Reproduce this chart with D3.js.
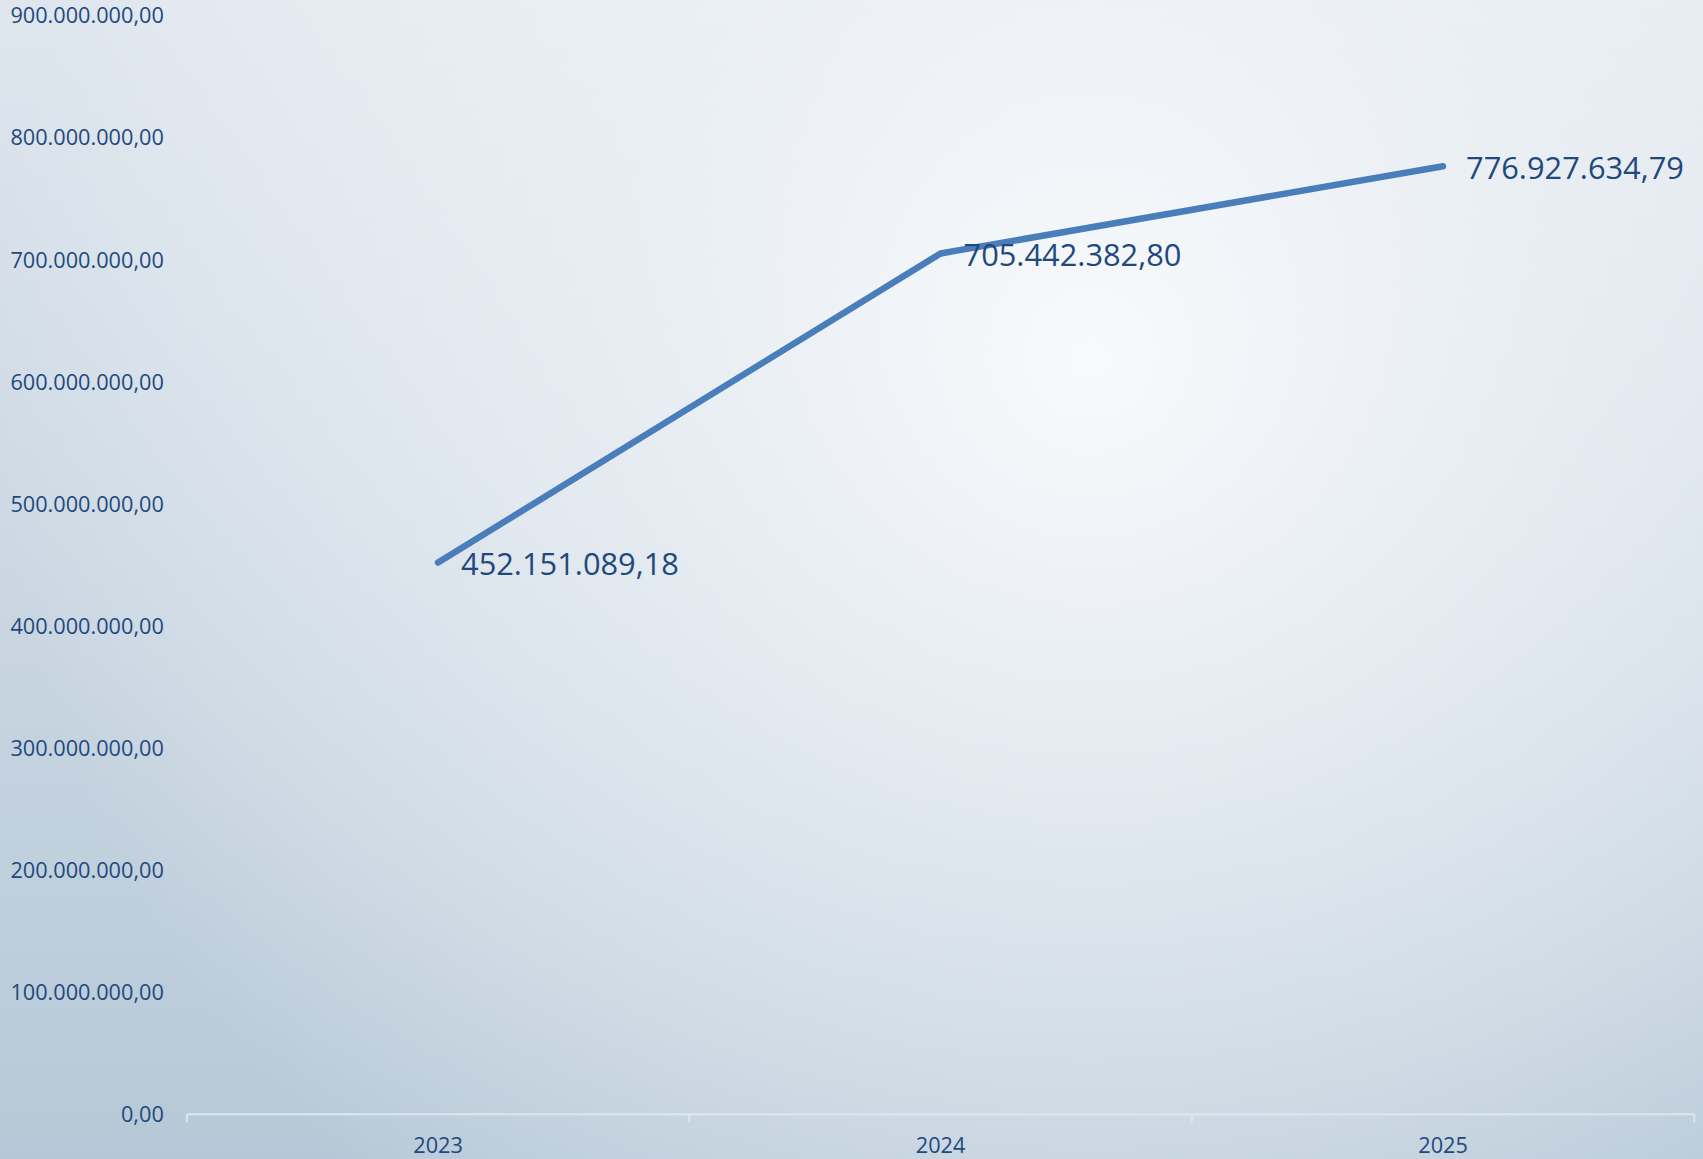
<!DOCTYPE html>
<html>

<head>
  <meta charset="utf-8" />
  <title>Line chart</title>
  <style>
    body {
      margin: 0;
      overflow: hidden;
    }

    text {
      font-family: "Open Sans", sans-serif;
      fill: #1f497d;
    }

    .yAxis text {
      font-size: 21.7px;
    }

    .xLabel {
      font-size: 21.7px;
    }

    .valueLabel {
      font-size: 30.8px;
    }
  </style>
  <script src="https://cdnjs.cloudflare.com/ajax/libs/d3/7.8.5/d3.min.js"></script>
</head>

<body>
  <div id="chartArea"></div>
  <script>
    var years = ['2023', '2024', '2025'];
    var values = [452151089.18, 705442382.80, 776927634.79];
    var yTicks = [0, 100000000, 200000000, 300000000, 400000000, 500000000, 600000000, 700000000, 800000000, 900000000];

    var W = 1703, H = 1159;
    // note: can't call it "top", that's window.top
    var plot = { left: 186.8, right: 1694.3, top: 16, bottom: 1114.3 };

    var locale = d3.formatLocale({ decimal: ',', thousands: '.', grouping: [3], currency: ['', ''] });
    var fmt = locale.format(',.2f');

    var svg = d3.select('#chartArea').append('svg')
      .attr('width', W)
      .attr('height', H);

    // background: vertical fade plus a soft light spot
    var defs = svg.append('defs');
    var lin = defs.append('linearGradient')
      .attr('id', 'bgLin')
      .attr('x1', 0).attr('y1', 0).attr('x2', 0).attr('y2', 1);
    lin.append('stop').attr('offset', 0).attr('stop-color', '#dfe6ee');
    lin.append('stop').attr('offset', 1).attr('stop-color', '#b6c8d7');

    var rad = defs.append('radialGradient')
      .attr('id', 'bgRad')
      .attr('gradientUnits', 'userSpaceOnUse')
      .attr('cx', 1090).attr('cy', 360).attr('r', 1100);
    rad.append('stop').attr('offset', 0).attr('stop-color', '#fafbfd').attr('stop-opacity', 0.95);
    rad.append('stop').attr('offset', 0.45).attr('stop-color', '#f3f6f9').attr('stop-opacity', 0.6);
    rad.append('stop').attr('offset', 1).attr('stop-color', '#ffffff').attr('stop-opacity', 0);

    svg.append('rect').attr('width', W).attr('height', H).attr('fill', 'url(#bgLin)');
    svg.append('rect').attr('width', W).attr('height', H).attr('fill', 'url(#bgRad)');

    var xScale = d3.scaleBand()
      .domain(years)
      .range([plot.left, plot.right])
      .padding(0);

    var yScale = d3.scaleLinear()
      .domain([0, 900000000])
      .range([plot.bottom, plot.top]);

    var yAxis = d3.axisLeft(yScale)
      .tickValues(yTicks)
      .tickSize(0)
      .tickPadding(23)
      .tickFormat(fmt);

    var gy = svg.append('g')
      .attr('class', 'yAxis')
      .attr('transform', 'translate(' + plot.left + ',0)')
      .call(yAxis);
    gy.select('.domain').remove();
    gy.selectAll('text').style('fill', '#1f497d');

    // category axis
    var gx = svg.append('g').attr('class', 'xAxis');
    gx.append('line')
      .attr('x1', plot.left).attr('x2', plot.right)
      .attr('y1', yScale(0)).attr('y2', yScale(0))
      .attr('stroke', '#dce6f1')
      .attr('stroke-width', 2);
    var bounds = years.map(d => xScale(d)).concat([xScale(years[years.length - 1]) + xScale.bandwidth()]);
    gx.selectAll('.tick')
      .data(bounds)
      .enter()
      .append('line')
      .attr('x1', d => d).attr('x2', d => d)
      .attr('y1', yScale(0)).attr('y2', yScale(0) + 8)
      .attr('stroke', '#dce6f1')
      .attr('stroke-width', 2);
    gx.selectAll('.xLabel')
      .data(years)
      .enter()
      .append('text')
      .attr('class', 'xLabel')
      .attr('x', d => xScale(d) + xScale.bandwidth() / 2)
      .attr('y', yScale(0) + 31)
      .attr('dy', '0.35em')
      .attr('text-anchor', 'middle')
      .text(d => d);

    var pts = years.map((d, i) => ({ year: d, value: values[i] }));
    var cx = d => xScale(d.year) + xScale.bandwidth() / 2;

    var line = d3.line()
      .x(cx)
      .y(d => yScale(d.value));

    svg.append('path')
      .datum(pts)
      .attr('d', line)
      .attr('fill', 'none')
      .attr('stroke', '#4a7ebb')
      .attr('stroke-width', 6.5)
      .attr('stroke-linecap', 'round')
      .attr('stroke-linejoin', 'round');

    svg.selectAll('.valueLabel')
      .data(pts)
      .enter()
      .append('text')
      .attr('class', 'valueLabel')
      .attr('x', d => cx(d) + 23)
      .attr('y', d => yScale(d.value) + 2)
      .attr('dy', '0.35em')
      .text(d => fmt(d.value));
  </script>
</body>

</html>
